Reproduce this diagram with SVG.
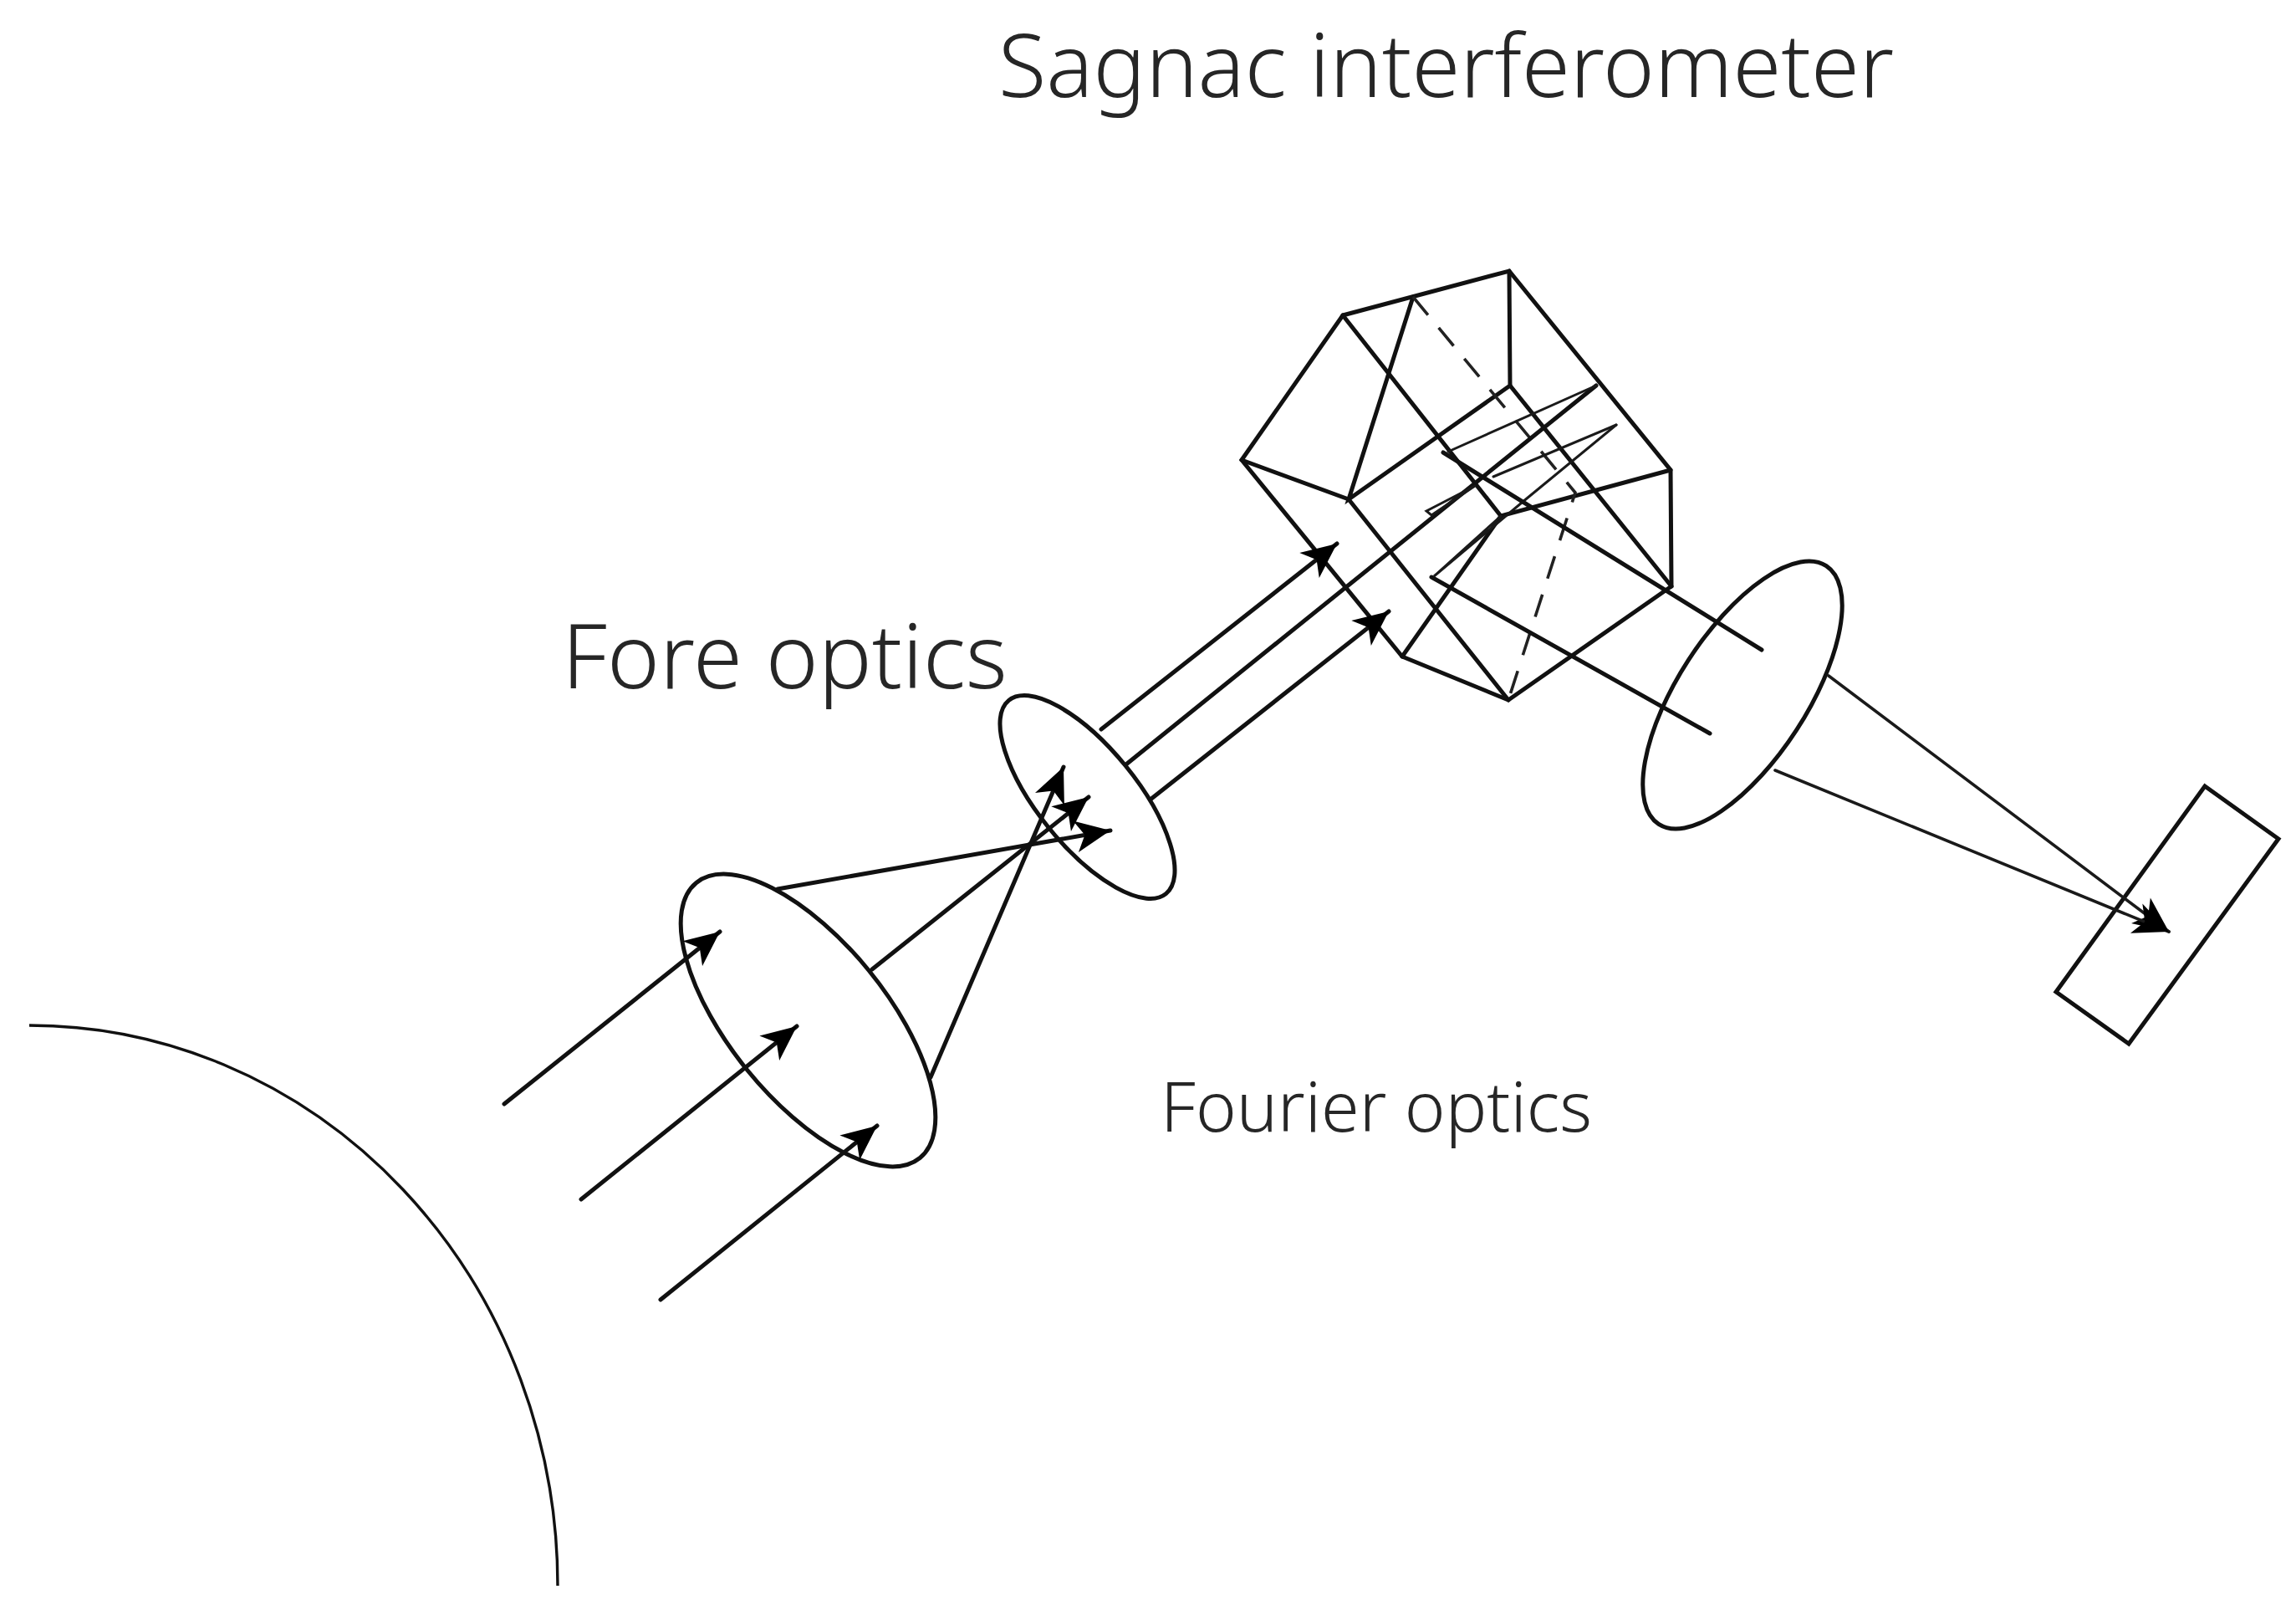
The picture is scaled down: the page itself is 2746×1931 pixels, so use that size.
<svg xmlns="http://www.w3.org/2000/svg" width="2746" height="1931" viewBox="0 0 2746 1931">
<style>
.s{fill:none;stroke:#111;stroke-width:5;stroke-linecap:round;stroke-linejoin:miter}
.t{fill:none;stroke:#1a1a1a;stroke-width:3;stroke-linecap:round;stroke-linejoin:miter}
.d{fill:none;stroke:#222;stroke-width:3.6;stroke-dasharray:28 20}
.a{marker-end:url(#ah)}
text{font-family:"Noto Sans","Open Sans","DejaVu Sans",sans-serif;font-weight:300;fill:#262626}
</style>
<defs>
<marker id="ah" markerUnits="userSpaceOnUse" markerWidth="50" markerHeight="44" refX="42" refY="22" orient="auto" overflow="visible">
<path d="M42 22 L0 3 L11 22 L0 41 Z" fill="#000"/>
</marker>
</defs>
<rect width="2746" height="1931" fill="#fff"/>
<g id="planet"><path d="M35 1226 A632 670 0 0 1 667 1896" fill="none" stroke="#111" stroke-width="3.4"/></g>
<g id="lens-1"><ellipse class="s" cx="966.5" cy="1220" rx="212" ry="94" transform="rotate(50.9 966.5 1220)"/></g>
<g id="lens-2"><ellipse class="s" cx="1300.5" cy="953" rx="149" ry="59" transform="rotate(50.9 1300.5 953)"/></g>
<g id="lens-3"><ellipse class="s" cx="2084" cy="831" rx="184" ry="77" transform="rotate(-57 2084 831)"/></g>
<g id="detector"><path class="s" d="M2637 940 L2725 1003 L2546 1248 L2459 1186 Z"/></g>
<g id="sagnac-prism">
<path class="s" d="M1606 377 L1805 324 L1998 562 L1999 701 L1804 837 L1677 785 L1485 550 Z"/>
<path class="s" d="M1485 550 L1613 597 L1804 837"/>
<path class="s" d="M1606 377 L1795 617 L1998 562"/>
<path class="s" d="M1690 355 L1613 597 L1806 461 L1805 324"/>
<path class="s" d="M1806 461 L1999 701"/>
<path class="s" d="M1795 617 L1677 785"/>
<path class="d" d="M1690 355 L1884 589 L1804 837"/>
</g>
<g id="connectors">
<path class="s a" d="M603 1320 L861 1114"/>
<path class="s a" d="M695 1434 L953 1227"/>
<path class="s a" d="M790 1554 L1049 1346"/>
<path class="s a" d="M930 1063 L1328 993"/>
<path class="s a" d="M1043 1159 L1302 953"/>
<path class="s a" d="M1113 1288 L1272 917"/>
<path class="s a" d="M1317 872 L1599 650"/>
<path class="s" d="M1348 913 L1909 461"/>
<path class="s a" d="M1377 955 L1661 731"/>
<path class="t" d="M1909 461 L1732 540"/>
<path class="t" d="M1933 508 L1786 570"/>
<path class="t" d="M1933 508 L1826 596 L1715 689 L1795 617"/>
<path class="t" d="M1764 581 L1706 611 L1712 616 L1764 581"/>
<path class="s" d="M1726 541 L2107 777"/>
<path class="s" d="M1712 690 L2045 877"/>
<path class="t a" style="stroke-width:3.6" d="M2187 808 L2594 1114"/>
<path class="t a" style="stroke-width:3.6" d="M2123 921 L2594 1114"/>
</g>
<g id="labels">
<text x="1194" y="116" font-size="104.8">Sagnac interferometer</text>
<text x="672" y="823" font-size="106.8">Fore optics</text>
<text x="1388" y="1353" font-size="82.8">Fourier optics</text>
</g>
</svg>
